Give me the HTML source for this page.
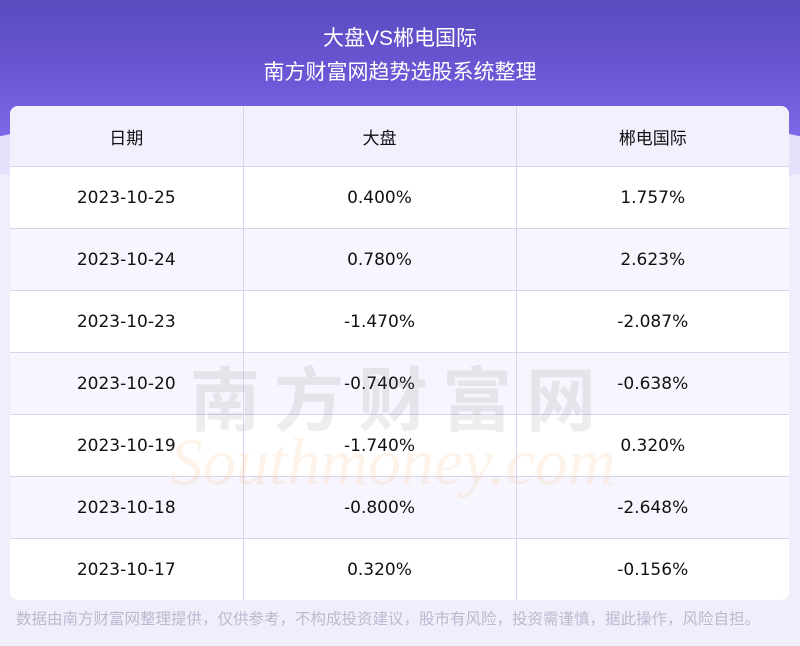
<!DOCTYPE html>
<html><head><meta charset="utf-8"><style>
body{margin:0;width:800px;height:646px;overflow:hidden;background:#f1eefc;font-family:"DejaVu Sans","Noto Sans CJK SC",sans-serif;position:relative}
.top{position:absolute;left:0;top:0;width:800px;height:160px;background:linear-gradient(180deg,#5a4bbf 0%,#6b58d6 50%,#8270ee 100%)}
.wave{position:absolute;left:-40px;top:110px;width:880px;height:90px;border-radius:50%;background:#e6e1fa}
.t1,.t2{position:absolute;left:0;width:800px;text-align:center;color:#fff;font-size:21px;font-family:"Liberation Sans","Noto Sans CJK SC",sans-serif}
.t1{top:22px}.t2{top:56px}
table{position:absolute;left:10px;top:106px;width:779px;border-collapse:collapse;background:#fff;border-radius:8px;overflow:hidden;font-size:17px;color:#111}
td{height:61px;text-align:center;border-right:1px solid #d9d4ee;border-bottom:1px solid #d9d4ee;padding:0}
td:last-child{border-right:none}
tr:last-child td{border-bottom:none}
tr.h td{background:#f2f0fd;height:60px}
tr.a td{background:#f7f5fe}
.wm{position:absolute;left:190px;top:345px;font-size:70px;color:rgba(120,110,110,0.13);letter-spacing:14px;font-weight:bold;font-family:"Noto Sans CJK SC",sans-serif}
.wm2{position:absolute;left:170px;top:425px;font-size:66px;color:rgba(250,200,150,0.22);font-family:"Liberation Serif",serif;font-style:italic}
.foot{position:absolute;left:16px;top:607px;font-size:15.5px;color:#bdb8cf;font-family:"Liberation Sans","Noto Sans CJK SC",sans-serif}
</style></head><body>
<div class="top"></div><div class="wave"></div>
<div class="t1">大盘VS郴电国际</div>
<div class="t2">南方财富网趋势选股系统整理</div>
<table>
<colgroup><col style="width:233px"><col style="width:273px"><col style="width:273px"></colgroup>
<tr class="h"><td>日期</td><td>大盘</td><td>郴电国际</td></tr>
<tr><td>2023-10-25</td><td>0.400%</td><td>1.757%</td></tr>
<tr class="a"><td>2023-10-24</td><td>0.780%</td><td>2.623%</td></tr>
<tr><td>2023-10-23</td><td>-1.470%</td><td>-2.087%</td></tr>
<tr class="a"><td>2023-10-20</td><td>-0.740%</td><td>-0.638%</td></tr>
<tr><td>2023-10-19</td><td>-1.740%</td><td>0.320%</td></tr>
<tr class="a"><td>2023-10-18</td><td>-0.800%</td><td>-2.648%</td></tr>
<tr><td>2023-10-17</td><td>0.320%</td><td>-0.156%</td></tr>
</table>
<div class="wm">南方财富网</div>
<div class="wm2">Southmoney.com</div>
<div class="foot">数据由南方财富网整理提供，仅供参考，不构成投资建议，股市有风险，投资需谨慎，据此操作，风险自担。</div>
</body></html>
